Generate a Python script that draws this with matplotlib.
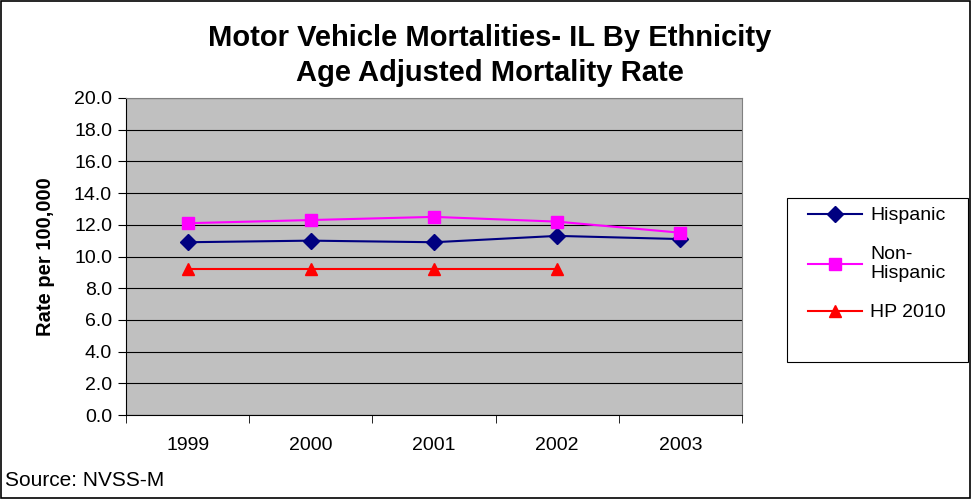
import numpy as np
import matplotlib
matplotlib.use("Agg")
import matplotlib.pyplot as plt
from matplotlib.patches import Rectangle

plt.rcParams['font.family'] = ['Liberation Sans', 'DejaVu Sans']

years = ['1999', '2000', '2001', '2002', '2003']
hispanic = [10.9, 11.0, 10.9, 11.3, 11.1]
non_hispanic = [12.1, 12.3, 12.5, 12.2, 11.5]
hp2010 = [9.2, 9.2, 9.2, 9.2]
y_ticks = [0, 2, 4, 6, 8, 10, 12, 14, 16, 18, 20]

fig = plt.figure(figsize=(9.72, 4.99), dpi=100)
ax = fig.add_axes([126/972, 1 - 415/499, (742 - 126)/972, (415 - 98)/499])
ax.set_facecolor('#C0C0C0')

x = np.arange(len(years))
ax.plot(x, hispanic, color='#000080', marker='D', markersize=8, lw=1.5, label='Hispanic')
ax.plot(x, non_hispanic, color='#FF00FF', marker='s', markersize=8, lw=1.5, label='Non-\nHispanic')
ax.plot(x[:len(hp2010)], hp2010, color='#FF0000', marker='^', markersize=9, lw=1.5, label='HP 2010')

ax.set_xlim(-0.5, len(years) - 0.5)
ax.set_ylim(0, 20)
ax.set_yticks(y_ticks)
ax.set_yticklabels([f'{v:.1f}' for v in y_ticks], fontsize=14)
ax.yaxis.grid(True, color='black', lw=0.8)
ax.set_axisbelow(True)

# category labels centred, tick marks between categories
ax.set_xticks(x)
ax.set_xticklabels(years, fontsize=14)
ax.tick_params(axis='x', length=0, pad=16)
ax.set_xticks(np.arange(-0.5, len(years)), minor=True)
ax.tick_params(axis='x', which='minor', length=6, color='black')
ax.tick_params(axis='y', length=6, color='black', pad=4)

for s in ['top', 'right']:
    ax.spines[s].set_color('#808080')
ax.spines['left'].set_color('black')
ax.spines['bottom'].set_color('black')

ax.set_ylabel('Rate per 100,000', fontsize=14.5, fontweight='bold', labelpad=14)

fig.text(490/972, 1 - 38/499, 'Motor Vehicle Mortalities- IL By Ethnicity',
         ha='center', va='center', fontsize=21, fontweight='bold')
fig.text(490/972, 1 - 73/499, 'Age Adjusted Mortality Rate',
         ha='center', va='center', fontsize=21, fontweight='bold')
fig.text(5/972, 1 - 480/499, 'Source: NVSS-M', ha='left', va='center', fontsize=15)

# legend box
fig.patches.append(Rectangle((787/972, 1 - 362/499), 181/972, 164/499,
                             transform=fig.transFigure, fill=False,
                             edgecolor='black', lw=0.8))
leg = fig.legend(loc='upper left', bbox_to_anchor=(800/972, 1 - 199/499),
                 borderaxespad=0, frameon=False, fontsize=14, labelspacing=1.1,
                 handlelength=2.8, handletextpad=0.4)

# outer border
fig.patches.append(Rectangle((0.001, 0.002), 0.997, 0.996, transform=fig.transFigure,
                             fill=False, edgecolor='black', lw=1.2))

fig.savefig('out.png', dpi=100)
